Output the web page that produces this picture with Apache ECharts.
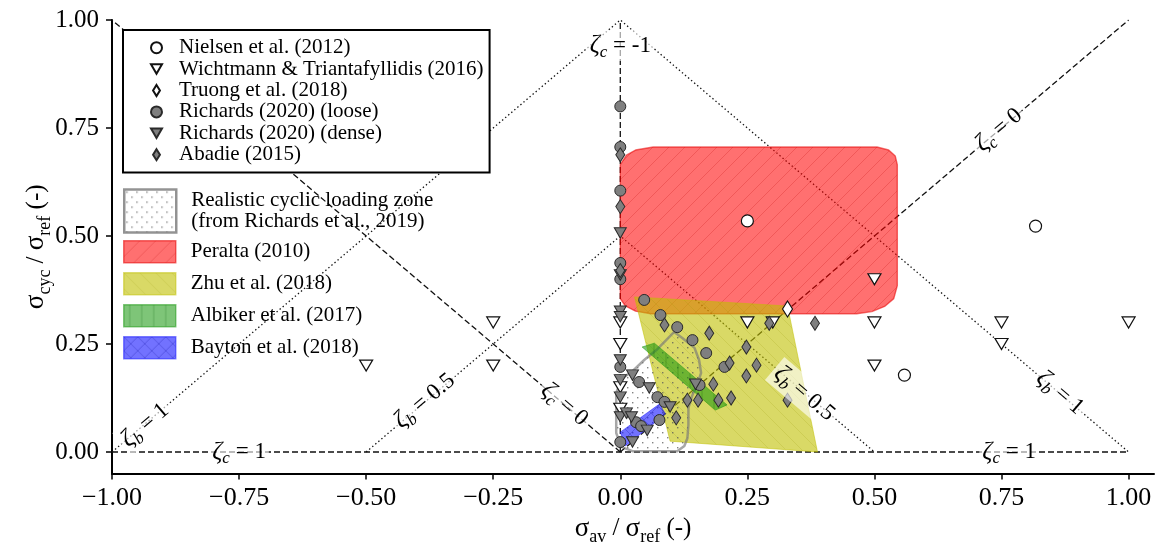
<!DOCTYPE html>
<html>
<head>
<meta charset="utf-8">
<script src="https://cdn.jsdelivr.net/npm/echarts@6/dist/echarts.min.js"></script>
<style>
  html, body { margin: 0; padding: 0; background: #fff; }
  #chart { width: 1156px; height: 549px; }
</style>
</head>
<body>
<div id="chart"></div>
<script>
// ---------- axis ticks ----------
const xTicks = [-1, -0.75, -0.5, -0.25, 0, 0.25, 0.5, 0.75, 1];
const yTicks = [0, 0.25, 0.5, 0.75, 1];

// ---------- test data: [sigma_av / sigma_ref, sigma_cyc / sigma_ref] ----------
const nielsen = [[0.25, 0.535], [0.817, 0.523], [0.559, 0.178]];
const wichtmann = [[-0.5, 0.2], [-0.25, 0.3], [-0.25, 0.2], [0, 0.3], [0, 0.25], [0, 0.15], [0, 0.1],
  [0.25, 0.3], [0.3, 0.3], [0.5, 0.4], [0.5, 0.3], [0.5, 0.2], [0.75, 0.3], [0.75, 0.25], [1.0, 0.3]];
const truong = [[0.329, 0.331]];
const richardsLoose = [[0, 0.80], [0, 0.706], [0, 0.605], [0, 0.4375], [0, 0.40], [0, 0.197], [0, 0.023],
  [0.047, 0.352], [0.079, 0.317], [0.112, 0.289], [0.142, 0.259], [0.169, 0.229], [0.205, 0.197],
  [0.156, 0.155], [0.037, 0.162], [0.073, 0.127], [0.087, 0.116], [0.077, 0.074], [0.031, 0.069], [0.041, 0.06]];
const richardsDense = [[0, 0.507], [0, 0.41], [0, 0.326], [0, 0.313], [0, 0.213], [0, 0.167], [0, 0.127], [0, 0.081],
  [0.024, 0.178], [0.057, 0.148], [0.098, 0.104], [0.148, 0.157], [0.012, 0.09], [0.022, 0.081], [0.053, 0.05], [0.024, 0.023]];
const abadie = [[0, 0.688], [0, 0.568], [0, 0.42], [0.087, 0.294], [0.175, 0.275], [0.215, 0.206], [0.183, 0.157],
  [0.132, 0.12], [0.153, 0.12], [0.193, 0.12], [0.218, 0.125], [0.110, 0.079], [0.293, 0.298], [0.383, 0.298],
  [0.248, 0.243], [0.268, 0.201], [0.248, 0.176], [0.329, 0.12]];

// ---------- loading zones (polygon vertices) ----------
const peraltaZone = [[0, 0.665], [0.012, 0.687], [0.03, 0.699], [0.065, 0.706], [0.505, 0.706], [0.528, 0.699],
  [0.541, 0.685], [0.545, 0.665], [0.545, 0.385], [0.538, 0.355], [0.52, 0.337], [0.495, 0.325], [0.465, 0.32],
  [0.06, 0.32], [0.03, 0.326], [0.01, 0.338], [0, 0.355]];
const zhuZone = [[0.028, 0.359], [0.329, 0.338], [0.388, 0.0], [0.098, 0.025]];
const albikerZone = [[0.043, 0.243], [0.067, 0.252], [0.21, 0.109], [0.187, 0.097]];
const baytonZone = [[0.0, 0.046], [0.077, 0.111], [0.089, 0.088], [0.01, 0.014]];
const realisticZone = [[0.106, 0.278], [0.122, 0.264], [0.146, 0.241], [0.155, 0.213], [0.159, 0.183],
  [0.151, 0.155], [0.142, 0.132], [0.134, 0.102], [0.134, 0.0625], [0.132, 0.032], [0.126, 0.014],
  [0.112, 0.002], [0.024, 0.002], [0.002, 0.012], [-0.008, 0.044], [-0.008, 0.097], [-0.008, 0.137],
  [0.004, 0.171], [0.022, 0.185], [0.047, 0.213], [0.071, 0.236], [0.096, 0.266]];

// ---------- reference lines ----------
const zetaCLines = [[[0, 0], [0, 1]], [[-1, 0], [1, 0]], [[0, 0], [1, 1]], [[0, 0], [-1, 1]]];
const zetaBLines = [[[-1, 0], [0, 1], [1, 0]], [[-0.5, 0], [0, 0.5], [0.5, 0]]];

// annotation anchors: [x, y, subscript, value, slope]
const annotations = [
  [0, 0.94, 'c', '-1', 0],
  [-0.75, 0, 'c', '1', 0],
  [0.765, 0, 'c', '1', 0],
  [-0.11, 0.11, 'c', '0', -1],
  [0.745, 0.745, 'c', '0', 1],
  [-0.935, 0.062, 'b', '1', 1],
  [-0.385, 0.118, 'b', '0.5', 1],
  [0.362, 0.135, 'b', '0.5', -1],
  [0.865, 0.137, 'b', '1', -1]
];

const SERIF = '"Liberation Serif", "DejaVu Serif", serif';
const DOWN_TRI = 'path://M0,0 L12,0 L6,10.4 Z';
const DIAMOND = 'path://M5,0 L10,8 L5,16 L0,8 Z';

// ---------- hatch tiles ----------
function tile(size, bg, draw) {
  const c = document.createElement('canvas');
  c.width = size; c.height = size;
  const g = c.getContext('2d');
  if (bg) { g.fillStyle = bg; g.fillRect(0, 0, size, size); }
  if (draw) draw(g, size);
  return { image: c, repeat: 'repeat' };
}
function lines(kind, color, w) {
  return function (g, s) {
    g.strokeStyle = color; g.lineWidth = w; g.beginPath();
    if (kind.indexOf('/') >= 0) {
      g.moveTo(-1, s + 1); g.lineTo(s + 1, -1);
    }
    if (kind.indexOf('\\') >= 0) {
      g.moveTo(-1, -1); g.lineTo(s + 1, s + 1);
    }
    if (kind.indexOf('|') >= 0) {
      g.moveTo(s / 2, 0); g.lineTo(s / 2, s);
    }
    g.stroke();
  };
}
function dots(color) {
  return function (g, s) {
    g.fillStyle = color;
    g.fillRect(2, 2, 1.4, 1.4);
    g.fillRect(2 + s / 2, 2 + s / 2, 1.4, 1.4);
  };
}
const peraltaFill = tile(16, 'rgba(255,0,0,0.56)', lines('/', 'rgba(190,0,0,0.22)', 1));
const zhuFill = tile(16, 'rgba(191,191,0,0.6)', lines('\\', 'rgba(150,150,0,0.18)', 1));
const albikerFill = tile(12, 'rgba(20,150,10,0.55)', lines('|', 'rgba(0,90,0,0.25)', 1));
const baytonFill = tile(14, 'rgba(20,20,255,0.6)', lines('/\\', 'rgba(0,0,150,0.25)', 1));
const zoneFill = tile(10, null, dots('rgba(90,90,90,0.75)'));

function zoneSeries(name, pts, fill, stroke, lw, z) {
  return {
    type: 'custom', name: name, z: z, silent: true,
    coordinateSystem: 'cartesian2d',
    data: [pts[0]],
    itemStyle: { color: fill },
    renderItem: function (params, api) {
      const points = pts.map(function (p) { return api.coord(p); });
      return { type: 'polygon', shape: { points: points },
        style: { fill: fill, stroke: stroke, lineWidth: lw, lineJoin: 'round' } };
    }
  };
}

function refLine(pts, type) {
  return {
    type: 'line', data: pts, z: 1, silent: true, showSymbol: false, symbol: 'none',
    lineStyle: { color: '#111', width: 1.3, type: type }
  };
}

const markerBase = { type: 'scatter', z: 10, silent: true };
function scatter(name, data, symbol, size, fill, edge, bw) {
  return Object.assign({}, markerBase, {
    name: name, data: data, symbol: symbol, symbolSize: size,
    itemStyle: { color: fill, borderColor: edge, borderWidth: bw, opacity: 1 }
  });
}

const zetaRich = {
  z: { fontFamily: SERIF, fontSize: 25, fontStyle: 'italic', lineHeight: 30, fill: '#000' },
  s: { fontFamily: SERIF, fontSize: 17, fontStyle: 'italic', lineHeight: 17, verticalAlign: 'bottom', fill: '#000' },
  t: { fontFamily: SERIF, fontSize: 23, lineHeight: 30, fill: '#000' }
};
const PIX_ANGLE = 40.3;

// ζ-line annotations, drawn as rotated text at their data anchors
const annotationSeries = {
  type: 'custom', z: 30, silent: true, coordinateSystem: 'cartesian2d',
  data: annotations.map(function (a) { return [a[0], a[1]]; }),
  renderItem: function (params, api) {
    const a = annotations[params.dataIndex];
    const p = api.coord([a[0], a[1]]);
    return {
      type: 'text', x: p[0], y: p[1], rotation: a[4] * PIX_ANGLE * Math.PI / 180,
      style: {
        text: '{z|ζ}{s|' + a[2] + '}{t| = ' + a[3] + '}',
        rich: zetaRich, align: 'center', verticalAlign: 'middle',
        backgroundColor: 'rgba(255,255,255,0.62)', padding: [0, 3, 0, 3]
      }
    };
  }
};

const nameRich = {
  g: { fontFamily: SERIF, fontSize: 27, lineHeight: 36, color: '#000' },
  sub: { fontFamily: SERIF, fontSize: 18, lineHeight: 20, verticalAlign: 'bottom', color: '#000' },
  t: { fontFamily: SERIF, fontSize: 25, lineHeight: 36, color: '#000' }
};

function fmtTick(v) { return v.toFixed(2).replace('-', '\u2212'); }

const series = [];
zetaCLines.forEach(function (l) { series.push(refLine(l, [6, 3])); });
zetaBLines.forEach(function (l) { series.push(refLine(l, [1.4, 2.6])); });
series.push(zoneSeries('Peralta (2010)', peraltaZone, peraltaFill, 'rgba(230,0,0,0.55)', 1.4, 2));
series.push(zoneSeries('Zhu et al. (2018)', zhuZone, zhuFill, 'rgba(191,191,0,0.5)', 1, 3));
series.push(zoneSeries('Realistic cyclic loading zone\n(from Richards et al., 2019)', realisticZone, zoneFill, 'rgba(120,120,120,0.65)', 2.5, 4));
series.push(zoneSeries('Albiker et al. (2017)', albikerZone, albikerFill, 'rgba(20,150,10,0.5)', 1, 5));
series.push(zoneSeries('Bayton et al. (2018)', baytonZone, baytonFill, 'rgba(20,20,255,0.5)', 1, 6));
series.push(scatter('Nielsen et al. (2012)', nielsen, 'circle', 12, '#fff', '#111', 1.2));
series.push(scatter('Wichtmann & Triantafyllidis (2016)', wichtmann, DOWN_TRI, [13, 11], '#fff', '#111', 1.2));
series.push(scatter('Truong et al. (2018)', truong, DIAMOND, [10, 16], '#fff', '#111', 1.2));
series.push(scatter('Richards (2020) (loose)', richardsLoose, 'circle', 11, '#7f7f7f', '#2a2a2a', 1));
series.push(scatter('Richards (2020) (dense)', richardsDense, DOWN_TRI, [12, 10.5], '#7f7f7f', '#2a2a2a', 1));
series.push(scatter('Abadie (2015)', abadie, DIAMOND, [9, 14], '#7f7f7f', '#2a2a2a', 1));
series.push(annotationSeries);

const legendText = { fontFamily: SERIF, fontSize: 21, color: '#000', lineHeight: 21.4, padding: [0, 0, 0, 12] };

const option = {
  animation: false,
  backgroundColor: '#fff',
  grid: { left: 112, right: 2, top: 20, bottom: 75.4, containLabel: false, outerBoundsMode: 'none', show: false },
  xAxis: {
    type: 'value', min: -1, max: 1.05,
    axisLine: { show: true, onZero: false, lineStyle: { color: '#000', width: 2 } },
    axisTick: { show: true, length: 6, lineStyle: { color: '#000', width: 1.5 }, customValues: xTicks },
    axisLabel: { customValues: xTicks, formatter: fmtTick, fontFamily: SERIF, fontSize: 26, color: '#000', margin: 12 },
    splitLine: { show: false },
    name: '{g|σ}{sub|av}{t| / }{g|σ}{sub|ref}{t| (-)}',
    nameLocation: 'middle', nameGap: 37, nameMoveOverlap: false,
    nameTextStyle: { rich: nameRich }
  },
  yAxis: {
    type: 'value', min: -0.05, max: 1.0,
    axisLine: { show: true, onZero: false, lineStyle: { color: '#000', width: 2 } },
    axisTick: { show: true, length: 6, lineStyle: { color: '#000', width: 1.5 }, customValues: yTicks },
    axisLabel: { customValues: yTicks, formatter: fmtTick, fontFamily: SERIF, fontSize: 25, color: '#000', margin: 13 },
    splitLine: { show: false },
    name: '{g|σ}{sub|cyc}{t| / }{g|σ}{sub|ref}{t| (-)}',
    nameLocation: 'middle', nameGap: 58, nameMoveOverlap: false,
    nameTextStyle: { rich: nameRich }
  },
  legend: [
    {
      orient: 'vertical', left: 123, top: 30, selectedMode: false,
      backgroundColor: '#fff', borderColor: '#000', borderWidth: 2, borderRadius: 0,
      padding: [7, 6, 7, 27], itemGap: 0, itemWidth: 11, itemHeight: 11,
      textStyle: legendText, z: 40,
      data: [
        { name: 'Nielsen et al. (2012)', icon: 'circle' },
        { name: 'Wichtmann & Triantafyllidis (2016)', icon: DOWN_TRI },
        { name: 'Truong et al. (2018)', icon: DIAMOND },
        { name: 'Richards (2020) (loose)', icon: 'circle' },
        { name: 'Richards (2020) (dense)', icon: DOWN_TRI },
        { name: 'Abadie (2015)', icon: DIAMOND }
      ]
    },
    {
      orient: 'vertical', left: 123, top: 188, selectedMode: false, padding: 0,
      itemWidth: 52, itemHeight: 43, z: 40,
      textStyle: Object.assign({}, legendText, { padding: [3, 0, 0, 10] }),
      data: [
        { name: 'Realistic cyclic loading zone\n(from Richards et al., 2019)', icon: 'rect',
          itemStyle: { color: zoneFill, borderColor: 'rgba(120,120,120,0.8)', borderWidth: 2.5 } }
      ]
    },
    {
      orient: 'vertical', left: 123, top: 240, selectedMode: false, padding: 0,
      itemWidth: 52, itemHeight: 22, itemGap: 8.5, z: 40,
      textStyle: Object.assign({}, legendText, { lineHeight: 22, padding: [0, 0, 0, 10] }),
      data: [
        { name: 'Peralta (2010)', icon: 'rect', itemStyle: { color: peraltaFill, borderColor: 'rgba(230,0,0,0.55)', borderWidth: 1.5 } },
        { name: 'Zhu et al. (2018)', icon: 'rect', itemStyle: { color: zhuFill, borderColor: 'rgba(191,191,0,0.5)', borderWidth: 1.5 } },
        { name: 'Albiker et al. (2017)', icon: 'rect', itemStyle: { color: albikerFill, borderColor: 'rgba(20,150,10,0.5)', borderWidth: 1.5 } },
        { name: 'Bayton et al. (2018)', icon: 'rect', itemStyle: { color: baytonFill, borderColor: 'rgba(20,20,255,0.5)', borderWidth: 1.5 } }
      ]
    }
  ],
  series: series
};

const chart = echarts.init(document.getElementById('chart'), null, { renderer: 'canvas' });
chart.setOption(option);
</script>
</body>
</html>
